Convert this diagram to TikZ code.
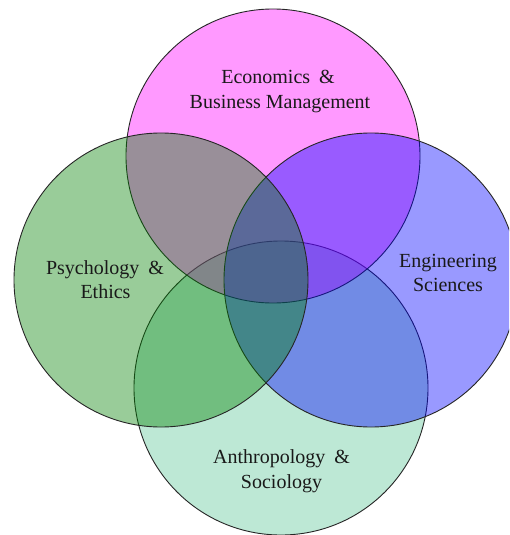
\documentclass[tikz,border=0pt]{standalone}
\usepackage{fontspec}
\setmainfont{Liberation Serif}
\definecolor{colM}{RGB}{255,0,255}
\definecolor{colB}{RGB}{0,0,255}
\definecolor{colG}{RGB}{0,128,0}
\definecolor{colT}{RGB}{90,198,152}
\definecolor{txt}{RGB}{25,25,25}
\begin{document}
\begin{tikzpicture}[x=1pt,y=-1pt,
  setcircle/.style={circle, minimum size=294pt, inner sep=0pt, fill opacity=0.4, draw=black!85, line width=0.9pt},
  lbl/.style={anchor=base, inner sep=0pt, text=txt, font=\fontsize{20}{24}\selectfont}]
\useasboundingbox (0,0) rectangle (509,535);
\fill[white] (0,0) rectangle (509,535);
\begin{scope}
\clip (0,0) rectangle (509,535);
\node[setcircle, fill=colT] (anth) at (281,388) {};
\node[setcircle, fill=colM] (econ) at (273,156) {};
\node[setcircle, fill=colB] (engi) at (371,280) {};
\node[setcircle, fill=colG] (psyc) at (161,280) {};
\end{scope}
\node[lbl] (econA) at (278,83) {Economics\hspace{0.45em}\&};
\node[lbl] (econB) at (280,108) {Business Management};
\node[lbl] (psycA) at (105,274) {Psychology\hspace{0.45em}\&};
\node[lbl] (psycB) at (105.5,298) {Ethics};
\node[lbl] (engiA) at (448,267) {Engineering};
\node[lbl] (engiB) at (448,291) {Sciences};
\node[lbl] (anthA) at (281.5,463) {Anthropology\hspace{0.45em}\&};
\node[lbl] (anthB) at (281.5,488) {Sociology};
\end{tikzpicture}
\end{document}
